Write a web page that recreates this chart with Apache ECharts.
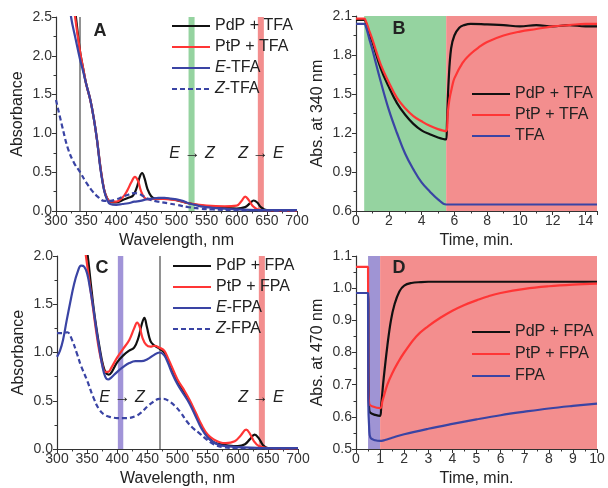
<!DOCTYPE html>
<html><head><meta charset="utf-8">
<script src="https://cdn.jsdelivr.net/npm/echarts@6.0.0/dist/echarts.min.js"></script>
<style>html,body{margin:0;padding:0;background:#fff}#c{width:608px;height:488px}</style>
</head><body><div id="c"></div>
<script>
// ---------- Panel A: absorbance vs wavelength (TFA) ----------
const A_PdP = [[320,3.3],[333,2.5],[340,2.05],[345,1.84],[350,1.64],[357,1.43],[363,1.18],[368,0.92],[374,0.55],[380,0.27],[385,0.16],[390,0.12],[400,0.11],[410,0.14],[420,0.17],[428,0.2],[434,0.3],[439,0.44],[443,0.49],[447,0.42],[452,0.28],[458,0.19],[465,0.16],[480,0.16],[500,0.14],[520,0.1],[550,0.06],[580,0.04],[600,0.03],[614,0.05],[622,0.1],[628,0.135],[634,0.11],[640,0.05],[650,0.01],[700,0.005]];
const A_PtP = [[318,3.4],[330,2.6],[340,2.05],[345,1.84],[350,1.64],[357,1.43],[363,1.18],[368,0.92],[374,0.55],[380,0.27],[385,0.16],[390,0.12],[400,0.12],[410,0.17],[418,0.26],[425,0.37],[431,0.44],[436,0.39],[441,0.26],[447,0.17],[455,0.15],[470,0.16],[500,0.14],[520,0.1],[550,0.07],[580,0.06],[600,0.07],[608,0.13],[614,0.185],[620,0.14],[627,0.06],[635,0.02],[650,0.01],[700,0.005]];
const A_E = [[305,3.8],[315,3.1],[325,2.5],[333,2.2],[340,1.95],[345,1.8],[350,1.64],[357,1.43],[363,1.18],[368,0.92],[374,0.53],[380,0.26],[385,0.14],[390,0.09],[400,0.08],[410,0.09],[420,0.1],[430,0.12],[440,0.13],[450,0.15],[460,0.16],[470,0.17],[480,0.17],[490,0.16],[500,0.15],[510,0.13],[520,0.1],[530,0.08],[540,0.06],[550,0.05],[560,0.04],[580,0.03],[600,0.02],[650,0.01],[700,0.01]];
const A_Z = [[300,1.43],[310,1.1],[320,0.8],[330,0.62],[340,0.5],[350,0.37],[360,0.26],[370,0.18],[380,0.13],[390,0.13],[400,0.15],[410,0.18],[420,0.21],[430,0.23],[438,0.22],[445,0.19],[455,0.15],[470,0.12],[485,0.1],[500,0.08],[520,0.05],[540,0.03],[560,0.02],[600,0.01],[700,0.005]];

// ---------- Panel B: abs. at 340 nm vs time (TFA) ----------
const B_PdP = [[0,2.07],[0.5,2.07],[0.6,2.05],[0.8,1.97],[1,1.9],[1.5,1.7],[2,1.555],[2.5,1.43],[3,1.34],[3.5,1.27],[4,1.22],[4.5,1.19],[5,1.165],[5.5,1.15],[5.55,1.28],[5.65,1.6],[5.8,1.85],[6,1.95],[6.3,2.01],[6.6,2.03],[7,2.04],[8,2.035],[9,2.03],[10,2.02],[11,2.03],[12,2.02],[13,2.03],[14,2.02],[14.7,2.02]];
const B_PtP = [[0,2.08],[0.5,2.08],[0.6,2.06],[0.8,1.99],[1,1.92],[1.5,1.73],[2,1.59],[2.5,1.47],[3,1.39],[3.5,1.33],[4,1.29],[4.5,1.255],[5,1.23],[5.5,1.215],[5.6,1.36],[5.7,1.46],[5.85,1.55],[6,1.62],[6.5,1.74],[7,1.81],[7.5,1.86],[8,1.9],[9,1.95],[10,1.98],[11,2.0],[12,2.02],[13,2.03],[14,2.04],[14.7,2.04]];
const B_TFA = [[0,2.04],[0.5,2.04],[0.6,2.02],[0.8,1.93],[1,1.84],[1.5,1.6],[2,1.38],[2.5,1.2],[3,1.04],[3.5,0.92],[4,0.82],[4.5,0.75],[5,0.69],[5.5,0.65],[6,0.65],[14.7,0.65]];

// ---------- Panel C: absorbance vs wavelength (FPA) ----------
const C_PdP = [[345,2.25],[351,2.0],[356,1.72],[361,1.45],[366,1.23],[371,1.04],[376,0.88],[381,0.79],[386,0.77],[391,0.8],[400,0.9],[410,0.97],[420,1.02],[428,1.05],[435,1.15],[441,1.3],[445,1.36],[449,1.27],[455,1.12],[460,1.08],[470,1.04],[478,1.0],[485,0.9],[490,0.83],[500,0.7],[510,0.6],[520,0.49],[530,0.36],[540,0.23],[550,0.13],[560,0.07],[570,0.05],[580,0.04],[600,0.03],[612,0.05],[620,0.1],[628,0.15],[635,0.11],[642,0.04],[650,0.01],[700,0.005]];
const C_PtP = [[342,2.3],[348,2.0],[355,1.68],[360,1.45],[365,1.22],[370,1.02],[375,0.88],[380,0.8],[385,0.8],[390,0.84],[400,0.95],[410,1.04],[420,1.13],[428,1.25],[433,1.31],[437,1.27],[442,1.15],[448,1.08],[455,1.06],[462,1.07],[470,1.05],[478,1.02],[485,0.93],[490,0.86],[500,0.72],[510,0.62],[520,0.51],[530,0.38],[540,0.25],[550,0.15],[560,0.1],[570,0.07],[580,0.06],[595,0.08],[605,0.14],[614,0.2],[620,0.16],[627,0.08],[635,0.03],[650,0.01],[700,0.005]];
const C_E = [[300,0.955],[305,1.02],[310,1.13],[316,1.33],[322,1.52],[328,1.7],[334,1.83],[340,1.9],[345,1.89],[350,1.82],[355,1.66],[360,1.47],[365,1.25],[370,1.05],[375,0.87],[380,0.75],[385,0.72],[390,0.74],[400,0.8],[410,0.85],[420,0.89],[430,0.91],[440,0.91],[450,0.93],[460,0.97],[470,1.0],[478,0.97],[485,0.88],[490,0.8],[500,0.67],[510,0.57],[520,0.47],[530,0.34],[540,0.21],[550,0.12],[560,0.07],[570,0.04],[580,0.03],[600,0.02],[650,0.01],[700,0.01]];
const C_Z = [[300,1.2],[310,1.2],[317,1.21],[325,1.13],[333,0.99],[340,0.86],[350,0.71],[360,0.54],[370,0.41],[380,0.35],[390,0.33],[400,0.32],[415,0.32],[430,0.34],[440,0.38],[450,0.44],[460,0.49],[470,0.52],[477,0.52],[485,0.5],[495,0.45],[505,0.38],[515,0.29],[525,0.22],[537,0.16],[548,0.1],[560,0.05],[575,0.02],[600,0.01],[700,0.005]];

// ---------- Panel D: abs. at 470 nm vs time (FPA) ----------
const D_PdP = [[0,0.985],[0.5,0.985],[0.52,0.7],[0.55,0.62],[0.6,0.612],[0.8,0.606],[1.0,0.603],[1.05,0.64],[1.15,0.72],[1.3,0.82],[1.45,0.9],[1.6,0.95],[1.8,0.99],[2,1.008],[2.3,1.016],[2.7,1.019],[3,1.02],[10,1.02]];
const D_PtP = [[0,1.066],[0.5,1.066],[0.51,0.7],[0.55,0.64],[0.7,0.632],[1.0,0.627],[1.1,0.65],[1.3,0.7],[1.5,0.735],[1.75,0.77],[2,0.8],[2.5,0.85],[3,0.882],[3.5,0.908],[4,0.93],[4.5,0.948],[5,0.962],[5.5,0.975],[6,0.985],[7,0.998],[8,1.006],[9,1.011],[10,1.014]];
const D_FPA = [[0,0.985],[0.5,0.985],[0.51,0.65],[0.55,0.56],[0.6,0.535],[0.8,0.527],[1,0.525],[1.2,0.528],[1.5,0.535],[2,0.546],[3,0.563],[4,0.578],[5,0.592],[6,0.605],[7,0.616],[8,0.626],[9,0.634],[10,0.641]];

// bands / marker lines (x positions in data units)
const A_bands = [[520,530,'#95d3a0'],[635,645,'#f38e8e']];
const A_vline = 340;
const B_bands = [[0.5,5.5,'#95d3a0'],[5.5,14.7,'#f38e8e']];
const C_bands = [[401,410,'#a194d8'],[635,645,'#f38e8e']];
const C_vline = 470;
const D_bands = [[0.5,1.0,'#9f94d4'],[1.0,10,'#f38e8e']];

const FONT = 'Liberation Sans, Arial, sans-serif';
const BLACK = '#111111', RED = '#ff3535', BLUE = '#3a44a4';

const grids = [
  {left:56, top:17, width:241, height:194},
  {left:356, top:16, width:241, height:195},
  {left:57, top:256, width:241, height:193},
  {left:356, top:256, width:241, height:194}
];

function xAx(i, min, max, interval, name){
  return {type:'value', gridIndex:i, min, max, interval, name, nameLocation:'middle', nameGap:22,
    nameTextStyle:{fontSize:16, color:'#222', fontFamily:FONT},
    axisLine:{show:true, lineStyle:{color:'#333', width:1.2}},
    axisTick:{show:true, length:4, lineStyle:{color:'#333'}},
    minorTick:{show:true, splitNumber:2, length:2.5, lineStyle:{color:'#333'}},
    splitLine:{show:false},
    axisLabel:{fontSize:14, color:'#333', fontFamily:FONT, margin:3,
      formatter: v => (Math.abs(v/interval - Math.round(v/interval))<1e-6) ? String(Math.round(v)) : ''}
  };
}
function yAx(i, min, max, interval, name){
  return {type:'value', gridIndex:i, min, max, interval, name, nameLocation:'middle', nameGap:30,
    nameTextStyle:{fontSize:16, color:'#222', fontFamily:FONT},
    axisLine:{show:true, lineStyle:{color:'#333', width:1.2}},
    axisTick:{show:true, length:4, lineStyle:{color:'#333'}},
    minorTick:{show:true, splitNumber:2, length:2.5, lineStyle:{color:'#333'}},
    splitLine:{show:false},
    axisLabel:{fontSize:14, color:'#333', fontFamily:FONT, margin:4, formatter: v => v.toFixed(1)}
  };
}

function line(name, data, i, color, dashed){
  return {type:'line', name, data, xAxisIndex:i, yAxisIndex:i, symbol:'none', showSymbol:false, z:5,
    smooth:0.4, clip:true,
    lineStyle:{color, width:2.2, type: dashed ? [5,3] : 'solid'}, itemStyle:{color}};
}
function bands(i, list, vline){
  const s = {type:'line', data:[], xAxisIndex:i, yAxisIndex:i, z:1, silent:true,
    markArea:{silent:true, data: list.map(b => [{xAxis:b[0], itemStyle:{color:b[2], opacity:1}},{xAxis:b[1]}])}};
  if (vline !== undefined) {
    s.markLine = {silent:true, symbol:['none','none'], label:{show:false},
      lineStyle:{color:'#6e6e6e', width:1.5, type:'solid'}, data:[{xAxis:vline}]};
  }
  return s;
}

const italicRich = {i:{fontStyle:'italic', fontSize:16, fontFamily:FONT, color:'#222'}};
function legend(i, names, left, top, gap){
  return {orient:'vertical', left, top, padding:0, itemGap:gap, itemWidth:38, itemHeight:14,
    data:names, selectedMode:false, itemStyle:{opacity:0},
    textStyle:{fontSize:16, color:'#222', fontFamily:FONT, lineHeight:16, rich:italicRich},
    formatter: n => n.replace(/^([EZ])-/, '{i|$1}-')};
}

function txt(x, y, text, opts){
  return {type:'text', x, y, z:100, style:Object.assign({text, fontSize:16, fontFamily:FONT, fill:'#222',
    textAlign:'center', textVerticalAlign:'middle', rich:{i:{fontStyle:'italic', fontSize:16, fontFamily:FONT, fill:'#222'}}}, opts||{})};
}

const option = {
  animation:false,
  grid: grids,
  xAxis:[xAx(0,300,700,50,'Wavelength, nm'), xAx(1,0,14.7,2,'Time, min.'), xAx(2,300,700,50,'Wavelength, nm'), xAx(3,0,10,1,'Time, min.')],
  yAxis:[yAx(0,0,2.5,0.5,'Absorbance'), yAx(1,0.6,2.1,0.3,'Abs. at 340 nm'), yAx(2,0,2.0,0.5,'Absorbance'), yAx(3,0.5,1.1,0.1,'Abs. at 470 nm')],
  legend:[
    legend(0, ['PdP + TFA','PtP + TFA','E-TFA','Z-TFA'], 171, 18, 5),
    legend(1, ['PdP + TFA ','PtP + TFA ','TFA'], 471, 86, 5),
    legend(2, ['PdP + FPA','PtP + FPA','E-FPA','Z-FPA'], 172, 258, 5),
    legend(3, ['PdP + FPA ','PtP + FPA ','FPA'], 471, 324, 6)
  ],
  series:[
    bands(0, A_bands, A_vline),
    line('PdP + TFA', A_PdP, 0, BLACK), line('PtP + TFA', A_PtP, 0, RED), line('E-TFA', A_E, 0, BLUE), line('Z-TFA', A_Z, 0, BLUE, true),
    bands(1, B_bands),
    line('PdP + TFA ', B_PdP, 1, BLACK), line('PtP + TFA ', B_PtP, 1, RED), line('TFA', B_TFA, 1, BLUE),
    bands(2, C_bands, C_vline),
    line('PdP + FPA', C_PdP, 2, BLACK), line('PtP + FPA', C_PtP, 2, RED), line('E-FPA', C_E, 2, BLUE), line('Z-FPA', C_Z, 2, BLUE, true),
    bands(3, D_bands),
    line('PdP + FPA ', D_PdP, 3, BLACK), line('PtP + FPA ', D_PtP, 3, RED), line('FPA', D_FPA, 3, BLUE)
  ],
  graphic:[
    txt(100, 31, 'A', {fontWeight:'bold', fontSize:18}),
    txt(399, 29, 'B', {fontWeight:'bold', fontSize:18}),
    txt(102, 268, 'C', {fontWeight:'bold', fontSize:18}),
    txt(399, 268, 'D', {fontWeight:'bold', fontSize:18}),
    txt(192, 154, '{i|E} \u2192 {i|Z}'),
    txt(261, 154, '{i|Z} \u2192 {i|E}'),
    txt(122, 398, '{i|E} \u2192 {i|Z}'),
    txt(261, 398, '{i|Z} \u2192 {i|E}')
  ]
};
const chart = echarts.init(document.getElementById('c'), null, {renderer:'canvas'});
chart.setOption(option);
</script></body></html>
